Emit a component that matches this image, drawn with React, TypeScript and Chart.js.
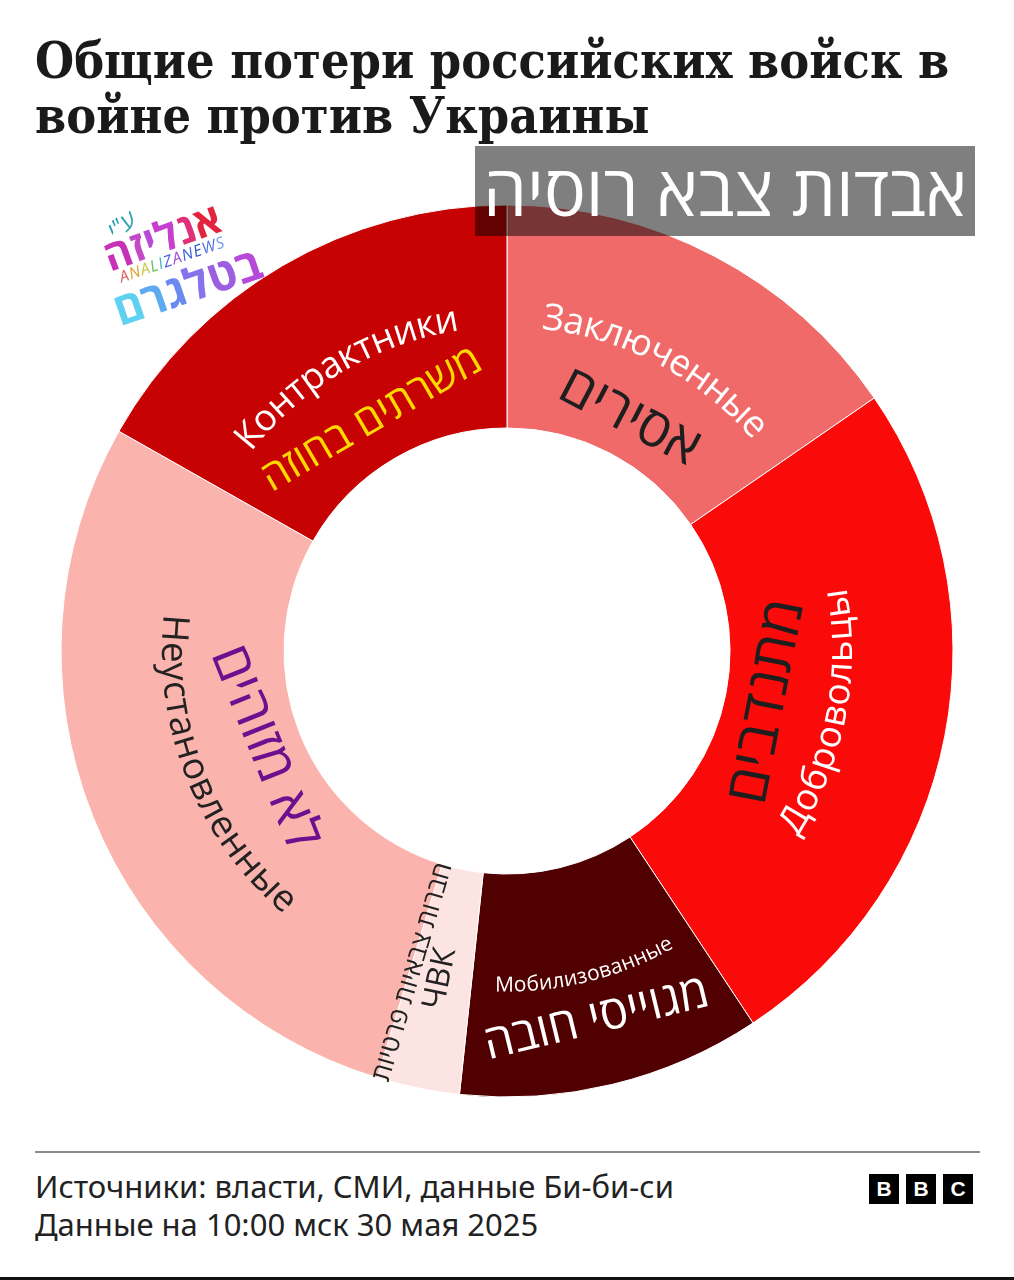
import React, { useEffect, useRef } from "react";
import { Chart, registerables } from "chart.js";

Chart.register(...registerables);

// ---- data ----
const categories = ["Заключенные", "Добровольцы", "Мобилизованные", "ЧВК", "Неустановленные", "Контрактники"];
const hebrewLabels = ["אסירים", "מתנדבים", "מגוייסי חובה", "חברות צבאיות פרטיות", "לא מזוהים", "משרתים בחוזה"];
const shares = [15.4, 25.3, 11.0, 3.0, 28.5, 16.8];
const segmentColors = ["#f06a6a", "#fb0a0a", "#500000", "#fce4e2", "#fbb3ad", "#c70202"];

// ---- label styling ----
const labelColors = ["#ffffff", "#ffffff", "#ffffff", "#222222", "#222222", "#ffffff"];
const labelSizes = [37, 37, 21, 32, 37, 37];
const hebrewColors = ["#1e1e1e", "#1e1e1e", "#ffffff", "#222222", "#6d0f8f", "#ffd800"];
const hebrewSizes = [54, 58, 47, 26, 54, 42];
const hebrewRing = [0.18, 0.19, 0.7, 0.5, 0.17, 0.2];
const hebrewShiftDeg = [0, 0, 0, 4.8, 0, 0];

const SANS = '"Open Sans", "Liberation Sans", "DejaVu Sans", sans-serif';

function arcText(ctx: CanvasRenderingContext2D, text: string, cx: number, cy: number, r: number, mid: number) {
  const inward = Math.sin(mid) > 0;
  const total = ctx.measureText(text).width;
  ctx.textAlign = "center";
  ctx.textBaseline = "middle";
  for (let k = 0; k < text.length; k++) {
    const ch = text[k];
    const before = ctx.measureText(text.slice(0, k)).width;
    const cw = ctx.measureText(ch).width;
    const off = (before + cw / 2 - total / 2) / r;
    const th = inward ? mid - off : mid + off;
    ctx.save();
    ctx.translate(cx + r * Math.cos(th), cy + r * Math.sin(th));
    ctx.rotate(inward ? th - Math.PI / 2 : th + Math.PI / 2);
    ctx.fillText(ch, 0, 0);
    ctx.restore();
  }
}

const labelPlugin = {
  id: "segLabels",
  afterDatasetsDraw(chart: any) {
    const ctx: CanvasRenderingContext2D = chart.ctx;
    const meta = chart.getDatasetMeta(0);
    meta.data.forEach((arc: any, i: number) => {
      const p = arc.getProps(["x", "y", "startAngle", "endAngle", "innerRadius", "outerRadius"], true);
      const mid = (p.startAngle + p.endAngle) / 2;
      const rMid = (p.innerRadius + p.outerRadius) / 2;
      ctx.save();
      ctx.font = `${labelSizes[i]}px ${SANS}`;
      ctx.fillStyle = labelColors[i];
      const w = ctx.measureText(categories[i]).width;
      const span = (p.endAngle - p.startAngle) * rMid;
      const narrow = span < w * 1.25;
      if (!narrow) {
        arcText(ctx, categories[i], p.x, p.y, rMid, mid);
      } else {
        ctx.textAlign = "center";
        ctx.textBaseline = "middle";
        ctx.translate(p.x + rMid * Math.cos(mid), p.y + rMid * Math.sin(mid));
        ctx.rotate(Math.atan2(-Math.sin(mid), -Math.cos(mid)));
        ctx.fillText(categories[i], 0, 0);
      }
      ctx.restore();

      // Hebrew overlay labels
      const th = mid + (hebrewShiftDeg[i] * Math.PI) / 180;
      const r = p.innerRadius + hebrewRing[i] * (p.outerRadius - p.innerRadius);
      ctx.save();
      ctx.font = `${hebrewSizes[i]}px ${SANS}`;
      ctx.fillStyle = hebrewColors[i];
      ctx.textAlign = "center";
      ctx.textBaseline = "middle";
      ctx.translate(p.x + r * Math.cos(th), p.y + r * Math.sin(th));
      let rot;
      if (narrow) rot = Math.atan2(-Math.sin(th), -Math.cos(th));
      else rot = Math.sin(th) > 0 ? th - Math.PI / 2 : th + Math.PI / 2;
      ctx.rotate(rot);
      ctx.fillText(hebrewLabels[i], 0, 0);
      ctx.restore();
    });
  },
};

const logoTop = [
  { ch: "א", c: "#e2243f" },
  { ch: "נ", c: "#e0307a" },
  { ch: "ל", c: "#c73fcf" },
  { ch: "י", c: "#b84bd6" },
  { ch: "ז", c: "#c24ac4" },
  { ch: "ה", c: "#c631b8" },
];
const logoBottom = [
  { ch: "ב", c: "#b64ad8" },
  { ch: "ט", c: "#9c5fe2" },
  { ch: "ל", c: "#8672ea" },
  { ch: "ג", c: "#6a8af0" },
  { ch: "ר", c: "#5eaaf0" },
  { ch: "ם", c: "#5ed0f0" },
];
const logoLatin = [
  { ch: "A", c: "#e06060" },
  { ch: "N", c: "#e0a030" },
  { ch: "A", c: "#c8c840" },
  { ch: "L", c: "#60c060" },
  { ch: "I", c: "#40b0d0" },
  { ch: "Z", c: "#5060e0" },
  { ch: "A", c: "#a050d0" },
  { ch: "N", c: "#4060e0" },
  { ch: "E", c: "#3050d0" },
  { ch: "W", c: "#5070e0" },
  { ch: "S", c: "#70a0f0" },
];

function Rotated(props: { x: number; y: number; deg: number; style?: any; children: any; dir?: string }) {
  return (
    <div
      dir={props.dir}
      style={{
        position: "absolute",
        left: props.x,
        top: props.y,
        transform: `translate(-50%, -50%) rotate(${props.deg}deg)`,
        whiteSpace: "nowrap",
        ...props.style,
      }}
    >
      {props.children}
    </div>
  );
}

export default function App() {
  const canvasRef = useRef<HTMLCanvasElement | null>(null);

  useEffect(() => {
    if (!canvasRef.current) return;
    const chart = new Chart(canvasRef.current, {
      type: "doughnut",
      data: {
        labels: categories,
        datasets: [
          {
            data: shares,
            backgroundColor: segmentColors,
            borderColor: "#ffffff",
            borderWidth: 1,
          },
        ],
      },
      options: {
        responsive: false,
        maintainAspectRatio: false,
        animation: false,
        radius: 446,
        cutout: "50%",
        rotation: 0,
        events: [],
        layout: { padding: 0 },
        plugins: { legend: { display: false }, tooltip: { enabled: false }, title: { display: false } },
      } as any,
      plugins: [labelPlugin as any],
    });
    return () => chart.destroy();
  }, []);

  return (
    <div
      style={{
        position: "absolute",
        left: 0,
        top: 0,
        width: 1014,
        height: 1280,
        overflow: "hidden",
        background: "#ffffff",
      }}
    >
      <div
        style={{
          position: "absolute",
          left: 35,
          top: 33,
          font: 'bold 51px "DejaVu Serif Condensed", "DejaVu Serif", serif',
          fontStretch: "condensed",
          lineHeight: "55px",
          color: "#1a1a1a",
          whiteSpace: "nowrap",
          transform: "scaleX(0.979)",
          transformOrigin: "0 0",
        }}
      >
        Общие потери российских войск в
        <br />
        войне против Украины
      </div>

      <canvas ref={canvasRef} width={1014} height={1000} style={{ position: "absolute", left: 0, top: 151 }} />

      {/* Hebrew banner */}
      <div
        dir="rtl"
        style={{
          position: "absolute",
          left: 475,
          top: 146,
          width: 500,
          height: 90,
          background: "rgba(0,0,0,0.5)",
          color: "#ffffff",
          font: `70px ${SANS}`,
          lineHeight: "86px",
          textAlign: "center",
          whiteSpace: "nowrap",
        }}
      >
        אבדות צבא רוסיה
      </div>

      {/* watermark logo */}
      <Rotated x={121} y={224} deg={-35} style={{ font: `italic 24px ${SANS}`, color: "#2aa0b0" }} dir="rtl">
        ע"י
      </Rotated>
      <Rotated x={162} y={236} deg={-20} style={{ font: `bold 42px ${SANS}`, lineHeight: "42px" }} dir="rtl">
        {logoTop.map((l, k) => (
          <span key={k} style={{ color: l.c }}>
            {l.ch}
          </span>
        ))}
      </Rotated>
      <Rotated x={172} y={259} deg={-19} style={{ font: `italic 16px ${SANS}`, letterSpacing: 1 }}>
        {logoLatin.map((l, k) => (
          <span key={k} style={{ color: l.c }}>
            {l.ch}
          </span>
        ))}
      </Rotated>
      <Rotated x={187} y={285} deg={-19} style={{ font: `bold 45px ${SANS}`, lineHeight: "45px" }} dir="rtl">
        {logoBottom.map((l, k) => (
          <span key={k} style={{ color: l.c }}>
            {l.ch}
          </span>
        ))}
      </Rotated>

      {/* footer */}
      <div style={{ position: "absolute", left: 35, top: 1151, width: 945, height: 2, background: "#8a8a8a" }} />
      <div
        style={{
          position: "absolute",
          left: 35,
          top: 1167,
          font: `31px "Noto Sans", ${SANS}`,
          lineHeight: "38px",
          color: "#222222",
          whiteSpace: "nowrap",
        }}
      >
        Источники: власти, СМИ, данные Би-би-си
        <br />
        Данные на 10:00 мск 30 мая 2025
      </div>
      {["B", "B", "C"].map((b, k) => (
        <div
          key={k}
          style={{
            position: "absolute",
            left: 869 + k * 37,
            top: 1174,
            width: 30,
            height: 30,
            background: "#000000",
            color: "#ffffff",
            font: 'bold 21px "Liberation Sans", Arial, sans-serif',
            lineHeight: "30px",
            textAlign: "center",
          }}
        >
          {b}
        </div>
      ))}
      <div style={{ position: "absolute", left: 0, top: 1277, width: 1014, height: 3, background: "#111111" }} />
    </div>
  );
}
